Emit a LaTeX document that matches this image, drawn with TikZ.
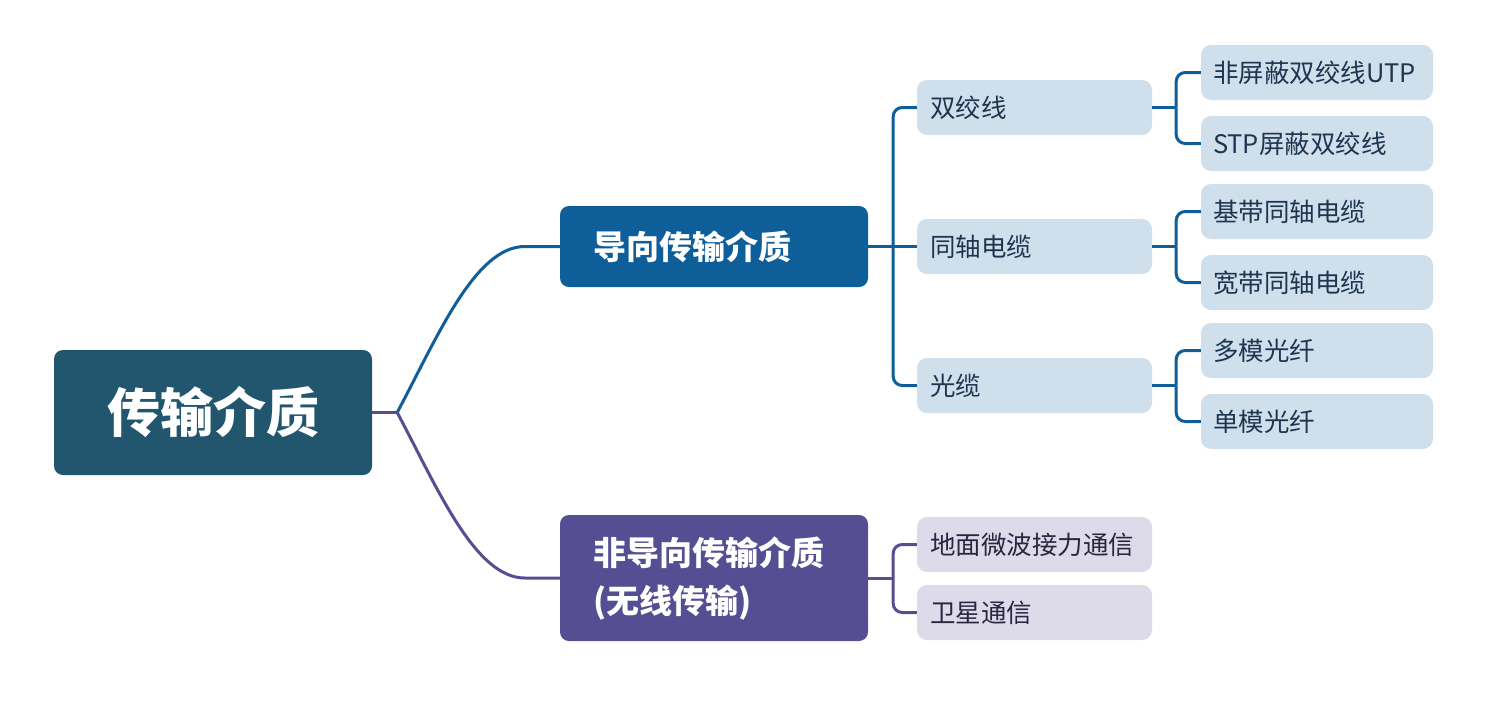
\documentclass[tikz,border=0pt]{standalone}
\usepackage{fontspec}
\setmainfont{Noto Sans CJK SC}
\usetikzlibrary{calc}
\definecolor{rootc}{HTML}{22556E}
\definecolor{blueM}{HTML}{0E5E9A}
\definecolor{purpM}{HTML}{554E93}
\definecolor{lblue}{HTML}{CFDFEC}
\definecolor{lpurp}{HTML}{DDDBE9}
\definecolor{txtd}{HTML}{1E3550}
\definecolor{txtp}{HTML}{2A2540}
\tikzset{
  rootbox/.style={rectangle, rounded corners=9pt, fill=rootc, text=white, font=\fontsize{53}{60}\selectfont\bfseries, minimum width=318pt, minimum height=125pt, inner sep=0pt},
  mainbox/.style={rectangle, rounded corners=9pt, fill=#1, text=white, font=\fontsize{33}{48}\selectfont\bfseries, text width=242pt, align=left, inner xsep=33pt, inner ysep=0pt},
  subbox/.style={rectangle, rounded corners=10pt, fill=#1, font=\fontsize{25.5}{28}\selectfont, text width=209pt, align=left, inner xsep=13pt, inner ysep=0pt, minimum height=55pt},
  leafbox/.style={rectangle, rounded corners=10pt, fill=lblue, text=txtd, font=\fontsize{25.5}{28}\selectfont, text width=208pt, align=left, inner xsep=12pt, inner ysep=0pt, minimum height=55pt},
  bconn/.style={draw=blueM, line width=3pt},
  pconn/.style={draw=purpM, line width=3pt},
  rc/.style={rounded corners=9pt}
}
\begin{document}
\begin{tikzpicture}[x=1pt,y=-1pt]
\useasboundingbox (0,0) rectangle (1507,710);
% nodes
\node[rootbox] (root) at (213,412.5) {传输介质};
\node[mainbox=blueM, minimum height=81pt] (g) at (714,246.5) {导向传输介质};
\node[mainbox=purpM, minimum height=126pt] (n) at (714,578) {非导向传输介质\\(无线传输)};
\node[subbox=lblue, text=txtd] (a) at (1034.5,107.5) {双绞线};
\node[subbox=lblue, text=txtd] (b) at (1034.5,246.5) {同轴电缆};
\node[subbox=lblue, text=txtd] (c) at (1034.5,385.5) {光缆};
\node[leafbox] (a1) at (1317,72.5) {非屏蔽双绞线UTP};
\node[leafbox] (a2) at (1317,143.5) {STP屏蔽双绞线};
\node[leafbox] (b1) at (1317,211.5) {基带同轴电缆};
\node[leafbox] (b2) at (1317,282.5) {宽带同轴电缆};
\node[leafbox] (c1) at (1317,350.5) {多模光纤};
\node[leafbox] (c2) at (1317,421.5) {单模光纤};
\node[subbox=lpurp, text=txtp] (w1) at (1034.5,544.5) {地面微波接力通信};
\node[subbox=lpurp, text=txtp] (w2) at (1034.5,612.5) {卫星通信};
% junctions
\coordinate (j0) at ($(root.east)+(25,0)$);
\coordinate (gb) at ($(g.east)+(25,0)$);
\coordinate (nb) at ($(n.east)+(25,0)$);
\coordinate (ab) at ($(a.east)+(24,0)$);
\coordinate (bb) at ($(b.east)+(24,0)$);
\coordinate (cb) at ($(c.east)+(24,0)$);
% root connectors
\draw[pconn] (root.east) -- (j0);
\draw[bconn] (j0) .. controls ($(j0)+(40,-75)$) and ($(g.west)+(-85,0)$) .. ($(g.west)+(-35,0)$) -- (g.west);
\draw[pconn] (j0) .. controls ($(j0)+(40,75)$) and ($(n.west)+(-85,0)$) .. ($(n.west)+(-35,0)$) -- (n.west);
% guided
\draw[bconn] (g.east) -- (b.west);
\draw[bconn,rc] (a.west) -| (gb);
\draw[bconn,rc] (c.west) -| (gb);
\draw[bconn] (a.east) -- (ab);
\draw[bconn,rc] (a1.west) -| (ab);
\draw[bconn,rc] (a2.west) -| (ab);
\draw[bconn] (b.east) -- (bb);
\draw[bconn,rc] (b1.west) -| (bb);
\draw[bconn,rc] (b2.west) -| (bb);
\draw[bconn] (c.east) -- (cb);
\draw[bconn,rc] (c1.west) -| (cb);
\draw[bconn,rc] (c2.west) -| (cb);
% unguided
\draw[pconn] (n.east) -- (nb);
\draw[pconn,rc] (w1.west) -| (nb);
\draw[pconn,rc] (w2.west) -| (nb);
\end{tikzpicture}
\end{document}
